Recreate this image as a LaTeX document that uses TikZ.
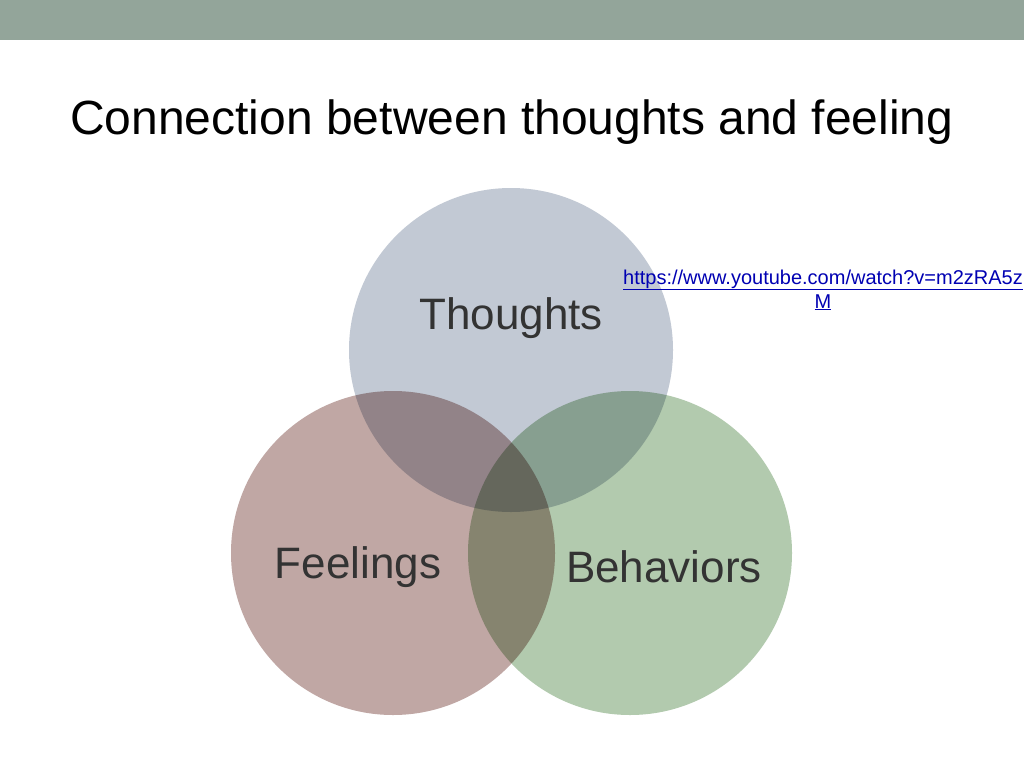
\documentclass[tikz,border=0pt]{standalone}
\usepackage{fontspec}
\setmainfont{Liberation Sans}
\begin{document}
\begin{tikzpicture}[x=1pt,y=-1pt,
  circ/.style={circle,minimum size=324pt,inner sep=0pt,draw=white,line width=2pt},
  lbl/.style={font=\fontsize{44}{48}\selectfont,text=black!80}]
\useasboundingbox (0,0) rectangle (1024,768);
\definecolor{bar}{HTML}{93A59A}
\definecolor{cT}{HTML}{C2C9D4}
\definecolor{cF}{HTML}{C0A7A4}
\definecolor{cB}{HTML}{B2CAAE}
\fill[bar] (0,0) rectangle (1024,40);
\node[anchor=base west,font=\fontsize{48}{52}\selectfont,inner sep=0] (title) at (70,134) {Connection between thoughts and feeling};
\begin{scope}[blend group=multiply]
\node[circ,fill=cT] (t) at (511,350) {};
\node[circ,fill=cF] (f) at (393,553) {};
\node[circ,fill=cB] (b) at (630,553) {};
\end{scope}
\node[lbl] (tl) at (511,318) {Thoughts};
\node[lbl] (fl) at (358,567) {Feelings};
\node[lbl] (bl) at (664,567) {Behaviors};
\node[align=center,text=blue!70!black,font=\fontsize{20}{24}\selectfont,anchor=north] (link) at (823,266)
 {\underline{https://www.youtube.com/watch?v=m2zRA5z}\\\underline{M}};
\end{tikzpicture}
\end{document}
